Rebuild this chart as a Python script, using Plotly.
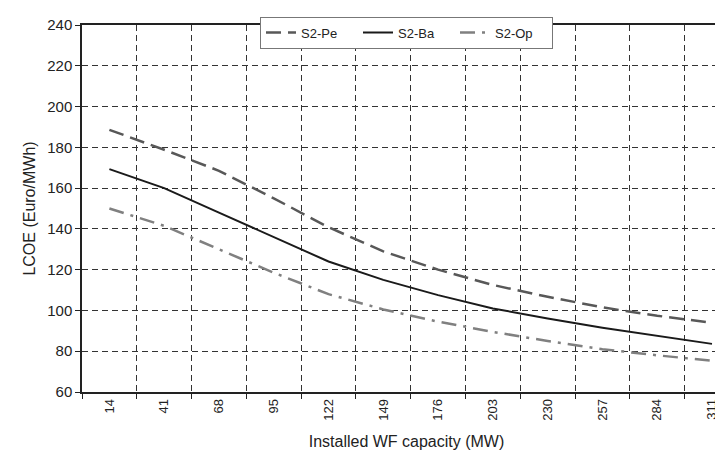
import plotly.graph_objects as go

capacity = ["14", "41", "68", "95", "122", "149", "176", "203", "230", "257", "284", "311"]
s2_pe = [188.6, 178.8, 168.5, 155, 140.8, 129, 120, 112.5, 106.7, 101.5, 97.4, 94]
s2_ba = [169.3, 160, 148, 135.8, 124, 115, 107.5, 101, 96, 91.5, 87.5, 83.6]
s2_op = [150, 141.5, 130, 118.5, 108, 100.5, 94.5, 89.5, 85, 81, 78, 75.3]

FONT = "Arial, Liberation Sans, sans-serif"

fig = go.Figure()
fig.add_trace(go.Scatter(x=capacity, y=s2_pe, mode="lines", name="S2-Pe",
                         line=dict(color="#585858", width=2.5, dash="15px,7px")))
fig.add_trace(go.Scatter(x=capacity, y=s2_ba, mode="lines", name="S2-Ba",
                         line=dict(color="#1a1a1a", width=2)))
fig.add_trace(go.Scatter(x=capacity, y=s2_op, mode="lines", name="S2-Op",
                         line=dict(color="#808080", width=2.5, dash="15px,7px,3px,7px")))

fig.update_layout(
    width=723, height=453,
    margin=dict(l=74, r=0, t=17, b=69, autoexpand=False),
    paper_bgcolor="white", plot_bgcolor="white",
    font=dict(family=FONT, size=13, color="#222"),
    legend=dict(orientation="h", x=0.5, xanchor="center",
                yref="container", y=0.981, yanchor="top",
                bgcolor="white", bordercolor="#777", borderwidth=1,
                font=dict(size=13, color="#222"), entrywidth=52,
                tracegroupgap=0, itemwidth=30),
    showlegend=True,
)
fig.update_xaxes(
    type="category", categoryorder="array", categoryarray=capacity,
    range=[-0.5, 11.347], tickson="boundaries", tickangle=-90,
    showgrid=True, gridcolor="#333", griddash="6px,4px", gridwidth=1,
    showline=True, linecolor="#222", linewidth=1.5, mirror=True,
    ticks="outside", ticklen=5, tickcolor="#222",
    tickfont=dict(size=13, color="#222"),
    title=dict(text="Installed WF capacity (MW)", font=dict(size=16, color="#222"), standoff=16),
    zeroline=False, automargin=False,
)
fig.update_yaxes(
    range=[60, 240], dtick=20, tick0=60,
    showgrid=True, gridcolor="#333", griddash="6px,4px", gridwidth=1,
    showline=True, linecolor="#222", linewidth=1.5,
    ticks="outside", ticklen=5, tickcolor="#222",
    tickfont=dict(size=15, color="#222"),
    title=dict(text="LCOE (Euro/MWh)", font=dict(size=16, color="#222"), standoff=8),
    zeroline=False, automargin=False,
)

fig.write_html("out.html")
